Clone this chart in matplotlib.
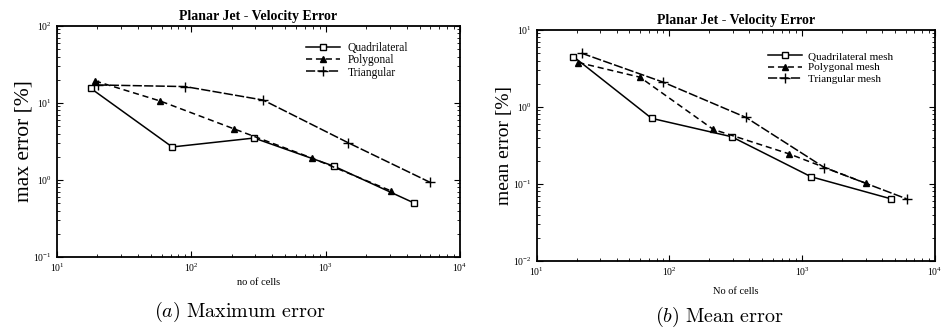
import matplotlib
matplotlib.use("Agg")
import matplotlib.pyplot as plt
from matplotlib.ticker import LogLocator, NullFormatter

plt.rcParams["font.family"] = ["Liberation Serif", "DejaVu Serif"]
plt.rcParams["mathtext.fontset"] = "cm"

# (a) maximum error
max_quad_x = [17.8, 72, 293, 1150, 4570]
max_quad_y = [15.5, 2.68, 3.5, 1.51, 0.50]
max_poly_x = [19.2, 58.5, 208, 792, 3070]
max_poly_y = [19.3, 10.6, 4.6, 1.92, 0.72]
max_tri_x = [20.3, 90, 342, 1470, 5990]
max_tri_y = [17.1, 16.3, 10.9, 3.04, 0.93]

# (b) mean error
mean_quad_x = [18.9, 73.5, 294, 1165, 4670]
mean_quad_y = [4.5, 0.71, 0.41, 0.124, 0.064]
mean_poly_x = [20.6, 60, 214, 800, 3020]
mean_poly_y = [3.77, 2.43, 0.51, 0.245, 0.102]
mean_tri_x = [21.8, 90, 377, 1470, 6120]
mean_tri_y = [4.98, 2.09, 0.73, 0.163, 0.064]

labels_a = ["Quadrilateral", "Polygonal", "Triangular"]
labels_b = ["Quadrilateral mesh", "Polygonal mesh", "Triangular mesh"]

fig = plt.figure(figsize=(9.47, 3.32), dpi=100)
ax1 = fig.add_axes([0.0602, 0.226, 0.4256, 0.696])
ax2 = fig.add_axes([0.5667, 0.214, 0.4206, 0.696])


def draw(ax, series, labels, ylim, ylabel, ylabel_size, xlabel, xlabel_pad,
         caption, cap_x, cap_y, leg_anchor, leg_size, leg_space):
    styles = [
        dict(ls="-", marker="s", mfc="white", ms=4),
        dict(ls=(0, (4, 2.5)), marker="^", mfc="black", ms=4),
        dict(ls=(0, (6, 1.5)), marker="+", ms=7),
    ]
    for (x, y), lab, st in zip(series, labels, styles):
        ax.plot(x, y, color="black", lw=1.1, mec="black", mew=1.0,
                label=lab, **st)
    ax.set_xscale("log")
    ax.set_yscale("log")
    ax.set_xlim(10, 1e4)
    ax.set_ylim(*ylim)
    ax.xaxis.set_minor_locator(LogLocator(base=10, subs=range(2, 10)))
    ax.yaxis.set_minor_locator(LogLocator(base=10, subs=range(2, 10)))
    ax.xaxis.set_minor_formatter(NullFormatter())
    ax.yaxis.set_minor_formatter(NullFormatter())
    ax.tick_params(which="both", direction="in", top=True, right=True,
                   labelsize=7)
    ax.tick_params(which="major", length=4)
    ax.tick_params(which="minor", length=2)
    for s in ax.spines.values():
        s.set_linewidth(1.3)
    ax.set_title("Planar Jet - Velocity Error", fontsize=10,
                 fontweight="bold", pad=4)
    ax.set_xlabel(xlabel, fontsize=7.5, labelpad=xlabel_pad)
    ax.set_ylabel(ylabel, fontsize=ylabel_size, labelpad=0)
    ax.text(cap_x, cap_y, caption, transform=ax.transAxes, ha="center",
            va="center", fontsize=14.5)
    ax.legend(loc="upper left", bbox_to_anchor=leg_anchor, frameon=False,
              fontsize=leg_size, handlelength=3.0, labelspacing=leg_space,
              handletextpad=0.6, borderaxespad=0.2)


draw(ax1,
     [(max_quad_x, max_quad_y), (max_poly_x, max_poly_y), (max_tri_x, max_tri_y)],
     labels_a, (0.1, 100), "max error [%]", 15.5, "no of cells", 3,
     r"$(a)\ \mathrm{Maximum\ error}$", 0.454, -0.238, (0.6, 0.96), 8.3, 0.02)
draw(ax2,
     [(mean_quad_x, mean_quad_y), (mean_poly_x, mean_poly_y), (mean_tri_x, mean_tri_y)],
     labels_b, (0.01, 10), "mean error [%]", 14, "No of cells", 6,
     r"$(b)\ \mathrm{Mean\ error}$", 0.458, -0.242, (0.565, 0.935), 8, 0.12)

fig.savefig("out.png", dpi=100)
